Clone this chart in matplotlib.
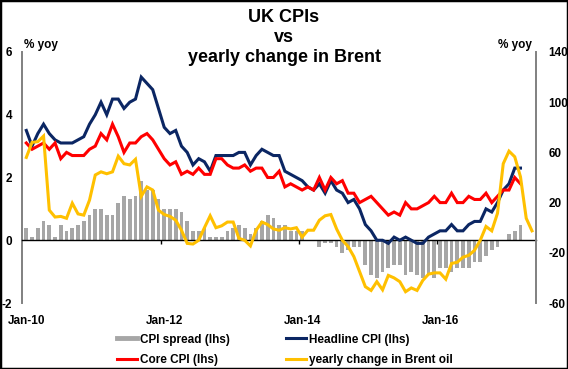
import numpy as np
import matplotlib
matplotlib.use("Agg")
import matplotlib.pyplot as plt
from matplotlib.lines import Line2D
from matplotlib.patches import Rectangle

# ---------------- data (monthly, Jan-10 onwards) ----------------
headline = [3.5, 3.0, 3.4, 3.7, 3.4, 3.2, 3.1, 3.1, 3.1, 3.2, 3.3, 3.7,
            4.0, 4.4, 4.0, 4.5, 4.5, 4.2, 4.4, 4.5, 5.2, 5.0, 4.8, 4.2,
            3.6, 3.4, 3.5, 3.0, 2.8, 2.4, 2.6, 2.5, 2.2, 2.7, 2.7, 2.7,
            2.7, 2.8, 2.8, 2.4, 2.7, 2.9, 2.8, 2.7, 2.7, 2.2, 2.1, 2.0,
            1.9, 1.7, 1.6, 1.8, 1.5, 1.9, 1.6, 1.5, 1.2, 1.3, 1.0, 0.5,
            0.3, 0.0, 0.0, -0.1, 0.1, 0.0, 0.1, 0.0, -0.1, -0.1, 0.1, 0.2,
            0.3, 0.3, 0.5, 0.3, 0.3, 0.5, 0.6, 0.6, 1.0, 0.9, 1.2, 1.6,
            1.8, 2.3, 2.3]

core = [3.1, 2.9, 3.0, 3.1, 2.9, 3.1, 2.6, 2.8, 2.7, 2.7, 2.7, 2.9,
        3.0, 3.4, 3.2, 3.7, 3.3, 2.8, 3.1, 3.1, 3.3, 3.4, 3.2, 2.9,
        2.6, 2.4, 2.5, 2.1, 2.2, 2.1, 2.3, 2.1, 2.1, 2.6, 2.6, 2.4,
        2.3, 2.3, 2.4, 2.2, 2.3, 2.3, 2.0, 2.0, 2.2, 1.7, 1.8, 1.7,
        1.6, 1.7, 1.6, 2.0, 1.6, 2.0, 1.8, 1.9, 1.5, 1.5, 1.2, 1.3,
        1.4, 1.2, 1.0, 0.8, 0.9, 0.8, 1.2, 1.0, 1.0, 1.1, 1.2, 1.4,
        1.2, 1.2, 1.5, 1.2, 1.2, 1.4, 1.3, 1.3, 1.5, 1.2, 1.4, 1.6,
        1.6, 2.0, 1.8]

spread = [0.4, 0.1, 0.4, 0.6, 0.5, 0.1, 0.5, 0.3, 0.4, 0.5, 0.6, 0.8,
          1.0, 1.0, 0.8, 0.8, 1.2, 1.4, 1.3, 1.4, 1.9, 1.6, 1.6, 1.3,
          1.0, 1.0, 1.0, 0.9, 0.6, 0.3, 0.3, 0.4, 0.1, 0.1, 0.1, 0.3,
          0.4, 0.5, 0.4, 0.2, 0.4, 0.6, 0.8, 0.7, 0.5, 0.5, 0.3, 0.3,
          0.3, 0.0, 0.0, -0.2, -0.1, -0.1, -0.2, -0.4, -0.3, -0.2, -0.2, -0.8,
          -1.1, -1.2, -1.0, -0.9, -0.8, -0.8, -1.1, -1.0, -1.1, -1.2, -1.1, -1.2,
          -0.9, -0.9, -1.0, -0.9, -0.9, -0.9, -0.7, -0.7, -0.5, -0.3, -0.2, 0.0,
          0.2, 0.3, 0.5]

brent = [56, 68, 68.5, 73, 14, 8.5, 9, 7.5, 19.5, 11, 10, 22,
         42, 44.5, 43, 44.5, 57, 51, 50, 54.5, 25, 32.5, 30, 14,
         10.5, 9, 6, -2, -12.5, -13, -10, 0, 9.5, 0, 1.5, 4.5,
         4.5, -8.5, -10, -14.5, -2, 4.5, 2.5, -1, -2, 0, -1, 0,
         -7.5, -2, -2, 6, 9.5, 10.5, -1, -10, -15, -23, -35, -47,
         -50, -43, -49.5, -38, -40, -43, -51, -48, -50, -42, -37, -36,
         -36, -41, -28.5, -27.5, -23.5, -22, -18, -10, 1, -2.5, 11.5, 51,
         61, 56.5, 40.5, 7.5, -2.5]

x_labels = ["Jan-10", "Jan-12", "Jan-14", "Jan-16"]
x_label_pos = [0, 24, 48, 72]
left_ticks = [-2, 0, 2, 4, 6]
right_ticks = [-60, -20, 20, 60, 100, 140]

# ---------------- style ----------------
plt.rcParams['font.family'] = ['Liberation Sans', 'DejaVu Sans']
plt.rcParams['font.weight'] = 'bold'
FS = 8.5
C_BAR = '#A6A6A6'
C_HEAD = '#0B2663'
C_CORE = '#FF0000'
C_BRENT = '#FFC000'
LW = 2.2

W, H = 568, 369
fig = plt.figure(figsize=(W / 100, H / 100), dpi=100)
L, R, T, B = 22, 536, 52, 303
ax = fig.add_axes([L / W, 1 - B / H, (R - L) / W, (B - T) / H])
ax2 = ax.twinx()

x_cpi = np.arange(len(headline))
x_sp = np.arange(len(spread))
x_br = np.arange(len(brent))

ax.bar(x_sp, spread, width=0.65, color=C_BAR, zorder=2)
ax.plot(x_cpi, headline, color=C_HEAD, lw=LW, zorder=3, solid_joinstyle='miter')
ax.plot(x_cpi, core, color=C_CORE, lw=LW, zorder=4, solid_joinstyle='miter')
ax2.plot(x_br, brent, color=C_BRENT, lw=LW, solid_joinstyle='miter')

ax.set_xlim(-0.75, 88.7)
ax.set_ylim(-2, 6)
ax2.set_ylim(-60, 140)
ax.set_yticks(left_ticks)
ax2.set_yticks(right_ticks)
ax.set_yticklabels([str(v) for v in left_ticks], fontsize=FS, fontweight='bold')
ax2.set_yticklabels([str(v) for v in right_ticks], fontsize=FS, fontweight='bold')
ax.tick_params(axis='y', length=0, pad=7)
ax2.tick_params(axis='y', length=0, pad=9)

for a in (ax, ax2):
    a.spines['top'].set_visible(False)
    a.patch.set_visible(False)
ax.spines['right'].set_visible(False)
ax2.spines['left'].set_visible(False)
ax2.spines['bottom'].set_visible(False)
ax.spines['left'].set_color('#808080')
ax.spines['left'].set_linewidth(1.4)
ax2.spines['right'].set_color('#808080')
ax2.spines['right'].set_linewidth(1.4)

# zero axis line with tick marks between categories
ax.spines['bottom'].set_position(('data', 0))
ax.spines['bottom'].set_color('black')
ax.spines['bottom'].set_linewidth(1.0)
ax.set_xticks([p - 0.5 for p in x_label_pos[1:]])
ax.tick_params(axis='x', length=3, width=1, direction='out', labelbottom=False)

sec = ax.secondary_xaxis(0)
sec.set_xticks(x_label_pos)
sec.set_xticklabels(x_labels, fontsize=FS, fontweight='bold')
sec.tick_params(length=0, pad=8.5)
sec.spines['bottom'].set_visible(False)

# titles and axis captions
fig.text(0.5, 1 - 18 / H, "UK CPIs", ha='center', va='center', fontsize=13, fontweight='bold')
fig.text(0.5, 1 - 38 / H, "vs", ha='center', va='center', fontsize=13, fontweight='bold')
fig.text(0.5, 1 - 57 / H, "yearly change in Brent", ha='center', va='center', fontsize=13, fontweight='bold')
fig.text(24 / W, 1 - 45 / H, "% yoy", ha='left', va='center', fontsize=FS, fontweight='bold')
fig.text(532 / W, 1 - 45 / H, "% yoy", ha='right', va='center', fontsize=FS, fontweight='bold')

# legend
handles = [Line2D([], [], color=C_BAR, lw=3.5),
           Line2D([], [], color=C_CORE, lw=LW),
           Line2D([], [], color=C_HEAD, lw=LW),
           Line2D([], [], color=C_BRENT, lw=LW)]
labels = ["CPI spread (lhs)", "Core CPI (lhs)", "Headline CPI (lhs)", "yearly change in Brent oil"]
fig.legend(handles, labels, ncol=2, loc='center', bbox_to_anchor=(285 / W, 1 - 350 / H),
           frameon=False, handlelength=1.7, handletextpad=0.2,
           columnspacing=4.8, labelspacing=0.75, borderpad=0, borderaxespad=0,
           prop={'weight': 'bold', 'size': FS})

fig.add_artist(Rectangle((0, 0), 1, 1, transform=fig.transFigure, fill=False,
                         ec='black', lw=2.5))

fig.savefig("out.png", dpi=100)
